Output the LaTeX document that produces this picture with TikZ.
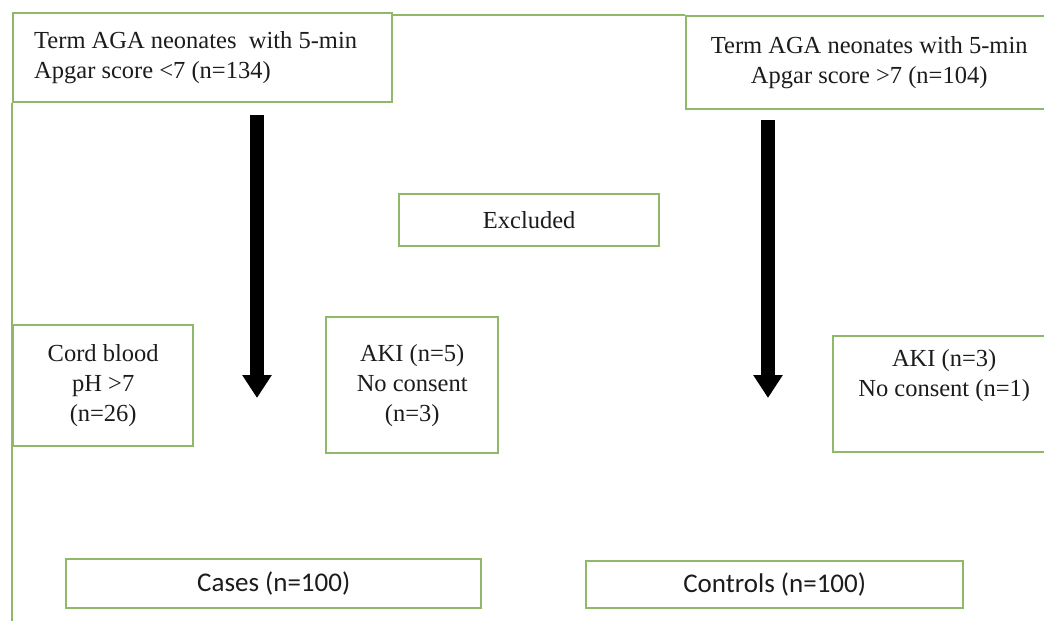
\documentclass[tikz,border=0pt]{standalone}
\usepackage{fontspec}
\setmainfont{Liberation Serif}
\newfontfamily\calib{Carlito}
\usetikzlibrary{arrows.meta}
\definecolor{boxgreen}{RGB}{143,184,105}
\definecolor{txt}{RGB}{28,28,28}
\tikzset{
  box/.style={draw=boxgreen, line width=2.4pt, fill=white, anchor=north west,
    inner sep=0pt, align=center, text=txt, font=\fontsize{24.5}{30}\selectfont},
  cbox/.style={box, font=\calib\fontsize{27}{32}\selectfont},
  frameline/.style={draw=boxgreen, line width=2.4pt},
  bigarrow/.style={line width=14pt, -{Triangle[width=28pt,length=23pt]}, black}
}
\begin{document}
\begin{tikzpicture}[x=1pt,y=-1pt]
\useasboundingbox (0,0) rectangle (1044,621);
\clip (0,0) rectangle (1044,621);
\fill[white] (0,0) rectangle (1044,621);
\coordinate (bl) at (12,640);
\coordinate (a1s) at (257,115);
\coordinate (a1e) at (257,398);
\coordinate (a2s) at (768,120);
\coordinate (a2e) at (768,398);
\node[box, minimum width=379pt, minimum height=89pt, text width=337pt, align=flush left] (b1) at (12,12) {Term AGA neonates\ \ with 5-min\\Apgar score <7 (n=134)};
\node[box, minimum width=366pt, minimum height=93pt] (b2) at (685,15) {Term AGA neonates with 5-min\\Apgar score >7 (n=104)};
\draw[frameline] (b1.north east |- b2.north) -- (b2.north west);
\draw[frameline] (b1.south west) -- (bl);
\node[box, minimum width=260pt, minimum height=52pt] (excl) at (398,193) {Excluded};
\node[box, minimum width=180pt, minimum height=121pt] (cord) at (12,324) {Cord blood\\pH >7\\(n=26)};
\node[box, minimum width=172pt, minimum height=136pt] (aki1) at (325,316) {AKI (n=5)\\No consent\\(n=3)};
\node[box, minimum width=222pt, minimum height=116pt] (aki2) at (832,335) {AKI (n=3)\\No consent (n=1)\\[12pt]};
\node[cbox, minimum width=415pt, minimum height=49pt] (cases) at (65,558) {Cases (n=100)};
\node[cbox, minimum width=377pt, minimum height=47pt] (ctrl) at (585,560) {Controls (n=100)};
\draw[bigarrow] (a1s) -- (a1e);
\draw[bigarrow] (a2s) -- (a2e);
\end{tikzpicture}
\end{document}
